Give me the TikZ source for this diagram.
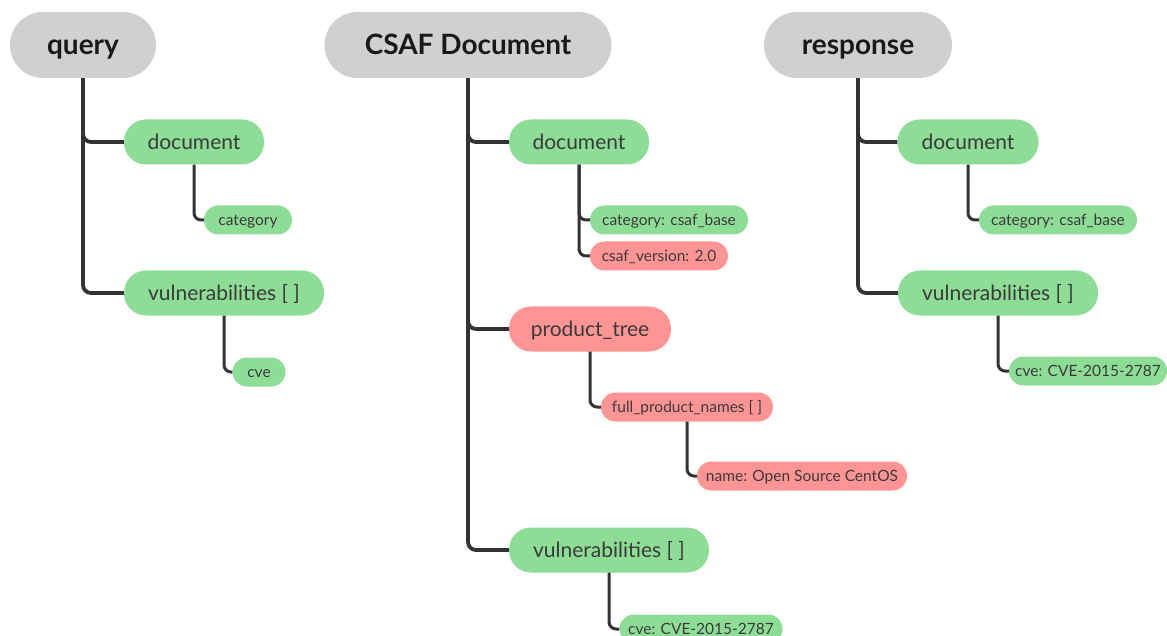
\documentclass[tikz,border=0pt]{standalone}
\usepackage{fontspec}
\setmainfont{Lato}
\definecolor{rootgray}{HTML}{D0D0D0}
\definecolor{leafgreen}{HTML}{8EDD97}
\definecolor{leafred}{HTML}{FF9494}
\definecolor{wire}{HTML}{333333}
\definecolor{label}{HTML}{3A3A3A}
\tikzset{
  pill/.style={inner sep=0pt, text depth=0pt},
  root/.style={pill, text height=20pt, fill=rootgray, rounded corners=33pt, minimum height=66pt,
    font=\fontsize{28}{32}\selectfont\bfseries, text=black!90},
  mid/.style={pill, text height=15pt, rounded corners=22pt, minimum height=45pt,
    font=\fontsize{21}{24}\selectfont, text=label},
  leaf/.style={pill, text height=11pt, rounded corners=14.5pt, minimum height=29pt,
    font=\fontsize{15.5}{18}\selectfont, text=label},
  ok/.style={fill=leafgreen},
  bad/.style={fill=leafred},
  trunk/.style={draw=wire, line width=3.8pt, rounded corners=8pt},
  twig/.style={draw=wire, line width=3pt, rounded corners=7pt},
}
\begin{document}
\begin{tikzpicture}[x=1pt, y=-1pt]
\useasboundingbox (0,0) rectangle (1167,636);
\clip (0,0) rectangle (1167,636);
\fill[white] (0,0) rectangle (1167,636);

% query tree
\node[root, minimum width=146pt] (q) at (83,45) {query};
\node[mid, ok, minimum width=140pt] (qdoc) at (194,142) {document};
\node[leaf, ok, minimum width=88pt] (qcat) at (248,220) {category};
\node[mid, ok, minimum width=200pt] (qvul) at (224,293) {vulnerabilities [ ]};
\node[leaf, ok, minimum width=53pt] (qcve) at (259,372) {cve};

% CSAF document tree
\node[root, minimum width=287pt] (c) at (468,45) {CSAF Document};
\node[mid, ok, minimum width=140pt] (cdoc) at (579,142) {document};
\node[leaf, ok, minimum width=158pt] (ccat) at (669,220) {category: csaf\_base};
\node[leaf, bad, minimum width=138pt] (cver) at (659,256) {csaf\_version: 2.0};
\node[mid, bad, minimum width=162pt] (cpt) at (590,329) {product\_tree};
\node[leaf, bad, minimum width=172pt] (cfpn) at (687,407) {full\_product\_names [ ]};
\node[leaf, bad, minimum width=210pt] (cname) at (802,476) {name: Open Source CentOS};
\node[mid, ok, minimum width=200pt] (cvul) at (609,550) {vulnerabilities [ ]};
\node[leaf, ok, minimum width=163pt] (ccve) at (701,629) {cve: CVE-2015-2787};

% response tree
\node[root, minimum width=188pt] (r) at (858,45) {response};
\node[mid, ok, minimum width=141pt] (rdoc) at (968,142) {document};
\node[leaf, ok, minimum width=158pt] (rcat) at (1058,220) {category: csaf\_base};
\node[mid, ok, minimum width=200pt] (rvul) at (998,293) {vulnerabilities [ ]};
\node[leaf, ok, minimum width=158pt] (rcve) at (1088,371) {cve: CVE-2015-2787};

% connectors
\draw[trunk] (q.south) |- (qdoc.west);
\draw[trunk] (q.south) |- (qvul.west);
\draw[twig] (qdoc.south) |- (qcat.west);
\draw[twig] (qvul.south) |- (qcve.west);

\draw[trunk] (c.south) |- (cdoc.west);
\draw[trunk] (c.south) |- (cpt.west);
\draw[trunk] (c.south) |- (cvul.west);
\draw[twig] (cdoc.south) |- (ccat.west);
\draw[twig] (cdoc.south) |- (cver.west);
\draw[twig] (cpt.south) |- (cfpn.west);
\draw[twig] (cfpn.south) |- (cname.west);
\draw[twig] (cvul.south) |- (ccve.west);

\draw[trunk] (r.south) |- (rdoc.west);
\draw[trunk] (r.south) |- (rvul.west);
\draw[twig] (rdoc.south) |- (rcat.west);
\draw[twig] (rvul.south) |- (rcve.west);
\end{tikzpicture}
\end{document}
